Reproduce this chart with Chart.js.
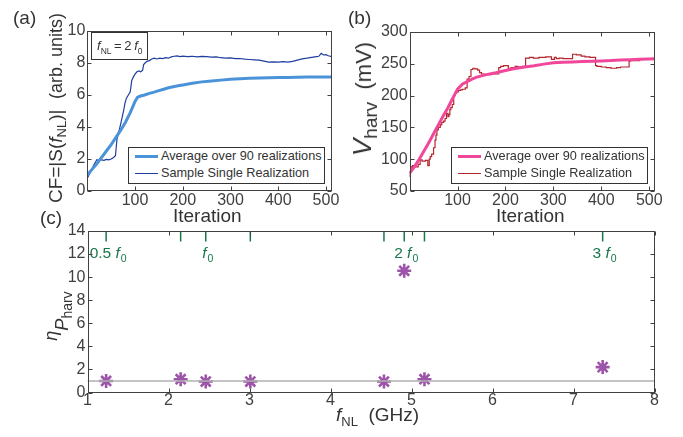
<!DOCTYPE html>
<html>
<head>
<meta charset="utf-8">
<script src="https://cdn.jsdelivr.net/npm/chart.js@4.4.1/dist/chart.umd.min.js"></script>
<style>
  body { margin: 0; background: #fff; }
  #wrap { position: relative; width: 683px; height: 437px; overflow: hidden;
          font-family: "Liberation Sans", Arial, sans-serif; color: #333; }
  canvas { position: absolute; }
  .t { position: absolute; white-space: nowrap; line-height: 1; }
  .rot { position: absolute; white-space: nowrap; line-height: 1;
         transform: translate(-50%, -50%) rotate(-90deg); }
  .leg { position: absolute; border: 1px solid #333; background: #fff; font-size: 12.7px; }
  .leg .ln { position: absolute; left: 6px; width: 23px; }
  .leg span { position: absolute; left: 32px; white-space: nowrap; line-height: 1; }
  i { font-style: italic; }
  .sub { position: relative; }
</style>
</head>
<body>
<div id="wrap">
  <canvas id="ca" width="345" height="215" style="left:0;top:0"></canvas>
  <canvas id="cb" width="343" height="215" style="left:340px;top:0"></canvas>
  <canvas id="cc" width="683" height="222" style="left:0;top:215px"></canvas>

  <div class="t" style="left:13px;top:8px;font-size:19px">(a)</div>
  <div class="t" style="left:348px;top:8px;font-size:19px">(b)</div>
  <div class="t" style="left:40px;top:208px;font-size:19px">(c)</div>

  <div class="rot" style="left:55px;top:108px;font-size:19px">CF=|S(<i>f</i><span class="sub" style="font-size:13px;top:4px">NL</span>)|&nbsp;&nbsp;<span style="font-size:18px">(arb. units)</span></div>
  <div class="rot" style="left:362px;top:99px;font-size:22px"><i style="font-size:26px">V</i><span class="sub" style="font-size:19px;top:6px">harv</span>&nbsp;&nbsp;(mV)</div>
  <div class="rot" style="left:51px;top:316px;font-size:18px"><i>η</i><span class="sub" style="top:11px"><i>P</i><span class="sub" style="font-size:14px;top:4px">harv</span></span></div>

  <div class="t" style="left:173px;top:205.5px;font-size:19px">Iteration</div>
  <div class="t" style="left:496px;top:205.5px;font-size:19px">Iteration</div>
  <div class="t" style="left:336px;top:405px;font-size:19px"><i>f</i><span class="sub" style="font-size:13px;top:5px">NL</span>&nbsp;&nbsp;(GHz)</div>

  <div class="t" style="left:91px;top:32px;width:55px;height:26px;border:1px solid #333;background:#fff;font-size:13px">
    <div class="t" style="left:5px;top:6px"><i>f</i><span class="sub" style="font-size:8.5px;top:4px">NL</span>&thinsp;=&thinsp;2&thinsp;<i>f</i><span class="sub" style="font-size:8.5px;top:4px">0</span></div>
  </div>

  <div class="leg" style="left:128px;top:147px;width:195px;height:35px">
    <div class="ln" style="top:6.5px;height:3px;background:#4b93d8"></div>
    <span style="top:2px">Average over 90 realizations</span>
    <div class="ln" style="top:24.5px;height:1.2px;background:#1f3f9e"></div>
    <span style="top:19px">Sample Single Realization</span>
  </div>
  <div class="leg" style="left:451px;top:147px;width:195px;height:35px">
    <div class="ln" style="top:6.5px;height:3px;background:#f0479b"></div>
    <span style="top:2px">Average over 90 realizations</span>
    <div class="ln" style="top:24.5px;height:1.2px;background:#b3262c"></div>
    <span style="top:19px">Sample Single Realization</span>
  </div>
</div>
<script>
// panel (a): CF vs iteration
const aAvgIter = [0,10,20,30,40,50,60,70,80,90,100,105,110,120,130,140,150,160,170,180,190,200,220,240,260,280,300,320,340,360,380,400,420,440,460,480,500,512];
const aAvgVal  = [1.0,1.35,1.7,2.1,2.5,2.9,3.35,3.8,4.3,4.9,5.6,5.85,5.92,6.0,6.1,6.18,6.27,6.36,6.45,6.52,6.58,6.63,6.74,6.82,6.88,6.93,6.98,7.02,7.05,7.07,7.08,7.09,7.1,7.11,7.12,7.12,7.12,7.12];
const aOneIter = [0,5,10,15,20,25,30,35,40,45,50,55,59,62,66,70,73,76,79,82,86,90,93,96,100,104,108,112,116,118,121,125,130,135,140,146,152,158,164,170,176,182,188,194,200,210,220,230,240,250,260,270,280,290,300,310,320,330,340,350,360,370,380,390,400,410,420,430,440,450,460,470,480,485,490,495,500,505,512];
const aOneVal  = [0.8,1.1,1.4,1.7,1.95,1.9,1.95,1.92,1.97,1.95,2.0,2.1,2.2,3.2,3.7,4.2,4.6,5.0,5.5,5.8,6.0,6.2,6.9,7.1,7.3,7.45,7.5,7.45,7.55,7.9,8.0,8.1,8.15,8.25,8.3,8.25,8.3,8.28,8.33,8.3,8.38,8.42,8.45,8.4,8.43,8.4,8.42,8.38,8.41,8.4,8.37,8.38,8.33,8.3,8.32,8.27,8.28,8.24,8.22,8.2,8.18,8.12,8.05,8.07,8.05,8.09,8.06,8.1,8.18,8.26,8.3,8.35,8.4,8.42,8.6,8.5,8.52,8.45,8.4];
const aXTicks = [100,200,300,400,500];
const aYTicks = [0,2,4,6,8,10];

// panel (b): V_harv vs iteration
const bAvgIter = [0,10,20,30,40,50,60,70,80,90,100,110,120,130,140,150,160,180,200,220,240,260,280,300,320,340,360,380,400,420,440,460,480,500,512];
const bAvgVal  = [78,88,100,113,126,140,154,168,181,196,210,218,222,226,229,231,233,236,239.5,242.5,245,247,249.5,251.5,252.5,253,253.5,254,254.5,255,256,256.5,257,257.5,258];
const bOneIter = [0,3,6,12,18,22,26,33,38,41,43,46,50,53,55,57,60,64,67,71,74,77,80,82,84,86,89,92,95,98,102,106,110,116,120,124,128,132,136,142,146,150,156,170,186,190,196,206,212,220,226,236,242,250,258,270,284,296,302,306,312,320,340,348,358,366,376,388,391,400,410,420,432,440,450,458,461,470,480,488,496,504,512];
const bOneVal  = [72,80,88,90,88,92,99,97,98,90,100,104,108,118,130,138,146,150,154,158,160,164,172,167,170,178,181,186,200,204,206,208,209,210,212,226,230,241,243,242,240,236,234,233,234,244,246,247,243,244,246,245,246,259,260,259,260,261,257,260,258,259,258,265,264,262,261,260,247,246,245,244,243,244,245,245,254,255,255,257,257,258,258];
const bXTicks = [100,200,300,400,500];
const bYTicks = [50,100,150,200,250,300];

// panel (c): eta vs f_NL
const cFreq = [1.23,2.15,2.46,3.01,4.66,4.91,5.16,7.36];
const cEta  = [1.0,1.15,0.95,0.95,0.95,10.55,1.15,2.2];
const cRefX = [1,8];
const cRefY = [1,1];
const cHarmX   = [1.23,2.15,2.46,3.01,4.66,4.91,5.16,7.36];
const cLabelX  = [1.23,2.46,4.91,7.36];
const cLabelPre = ['0.5 ','','2 ','3 '];
const cXTicks = [1,2,3,4,5,6,7,8];
const cYTicks = [0,2,4,6,8,10,12,14];

const axisCol = '#404040';
const tickFont = { family: '"Liberation Sans", Arial, sans-serif', size: 16, lineHeight: 1 };

const pts = (xs, ys) => xs.map((x, i) => ({ x, y: ys[i] }));

// box around plot area with inward tick marks
const frame = {
  id: 'frame',
  afterDraw(chart) {
    const { ctx, chartArea: a, scales: { x, y } } = chart;
    const L = Math.round(a.left) + 0.5, R = Math.round(a.right) - 0.5;
    const T = Math.round(a.top) + 0.5, B = Math.round(a.bottom) - 0.5;
    ctx.save();
    ctx.strokeStyle = axisCol;
    ctx.lineWidth = 1;
    ctx.strokeRect(L, T, R - L, B - T);
    ctx.beginPath();
    x.ticks.forEach(t => {
      const p = Math.round(x.getPixelForValue(t.value)) + 0.5;
      ctx.moveTo(p, B); ctx.lineTo(p, B - 4);
      ctx.moveTo(p, T); ctx.lineTo(p, T + 4);
    });
    y.ticks.forEach(t => {
      const p = Math.round(y.getPixelForValue(t.value)) + 0.5;
      ctx.moveTo(L, p); ctx.lineTo(L + 4, p);
      ctx.moveTo(R, p); ctx.lineTo(R - 4, p);
    });
    ctx.stroke();
    ctx.restore();
  }
};

// green harmonic labels in panel (c)
const harmLabels = {
  id: 'harmLabels',
  afterDatasetsDraw(chart) {
    const { ctx, chartArea: a, scales: { x } } = chart;
    const main = '15.5px "Liberation Sans", Arial, sans-serif';
    const ital = 'italic 15.5px "Liberation Sans", Arial, sans-serif';
    const sub = '10.5px "Liberation Sans", Arial, sans-serif';
    const base = a.top + 27;
    ctx.save();
    ctx.fillStyle = '#17774a';
    ctx.textBaseline = 'alphabetic';
    ctx.textAlign = 'left';
    cLabelX.forEach((v, i) => {
      ctx.font = main; const w1 = ctx.measureText(cLabelPre[i]).width;
      ctx.font = ital; const w2 = ctx.measureText('f').width + 1;
      ctx.font = sub; const w3 = ctx.measureText('0').width;
      let px = x.getPixelForValue(v) - (w1 + w2 + w3) / 2 + 2;
      ctx.font = main; ctx.fillText(cLabelPre[i], px, base); px += w1;
      ctx.font = ital; ctx.fillText('f', px, base); px += w2;
      ctx.font = sub; ctx.fillText('0', px, base + 4);
    });
    ctx.restore();
  }
};

function axes(xMin, xMax, xTicks, yMin, yMax, yTicks, yWidth, xHeight, xPad) {
  return {
    x: {
      type: 'linear', min: xMin, max: xMax,
      grid: { display: false, drawTicks: false }, border: { display: false },
      ticks: { color: axisCol, font: tickFont, padding: xPad, maxRotation: 0 },
      afterBuildTicks: s => { s.ticks = xTicks.map(v => ({ value: v })); },
      afterFit: s => { s.height = xHeight; }
    },
    y: {
      type: 'linear', min: yMin, max: yMax,
      grid: { display: false, drawTicks: false }, border: { display: false },
      ticks: { color: axisCol, font: tickFont, padding: 2 },
      afterBuildTicks: s => { s.ticks = yTicks.map(v => ({ value: v })); },
      afterFit: s => { s.width = yWidth; }
    }
  };
}

const common = {
  responsive: false,
  animation: false,
  plugins: { legend: { display: false }, tooltip: { enabled: false } },
  elements: { point: { radius: 0 }, line: { tension: 0 } }
};

new Chart(document.getElementById('ca'), {
  type: 'line',
  data: {
    datasets: [
      { data: pts(aAvgIter, aAvgVal), borderColor: '#4b93d8', borderWidth: 3 },
      { data: pts(aOneIter, aOneVal), borderColor: '#1f3f9e', borderWidth: 1.2 }
    ]
  },
  options: {
    ...common,
    layout: { padding: { left: 0, top: 31, right: 13.3, bottom: 0 } },
    scales: axes(0, 512, aXTicks, 0, 10, aYTicks, 87.3, 24, 1.5)
  },
  plugins: [frame]
});

new Chart(document.getElementById('cb'), {
  type: 'line',
  data: {
    datasets: [
      { data: pts(bAvgIter, bAvgVal), borderColor: '#f0479b', borderWidth: 3 },
      { data: pts(bOneIter, bOneVal), borderColor: '#b3262c', borderWidth: 1.2, stepped: 'after' }
    ]
  },
  options: {
    ...common,
    layout: { padding: { left: 0, top: 32, right: 28, bottom: 0 } },
    scales: axes(0, 512, bXTicks, 50, 300, bYTicks, 69.6, 24, 1.5)
  },
  plugins: [frame]
});

const harmData = [];
cHarmX.forEach(v => { harmData.push({ x: v, y: 14 }, { x: v, y: 13.1 }, { x: v, y: null }); });

new Chart(document.getElementById('cc'), {
  type: 'line',
  data: {
    datasets: [
      { data: pts(cRefX, cRefY), borderColor: '#b0b0b0', borderWidth: 1.5 },
      { data: harmData, borderColor: '#17774a', borderWidth: 1.5, spanGaps: false },
      { data: pts(cFreq, cEta), showLine: false, pointStyle: 'star', pointRadius: 7,
        borderColor: '#9c55a8', backgroundColor: '#9c55a8', pointBorderWidth: 2.6 }
    ]
  },
  options: {
    ...common,
    layout: { padding: { left: 0, top: 16, right: 28.5, bottom: 0 } },
    scales: axes(1, 8, cXTicks, 0, 14, cYTicks, 87.5, 44.5, 0)
  },
  plugins: [frame, harmLabels]
});
</script>
</body>
</html>
